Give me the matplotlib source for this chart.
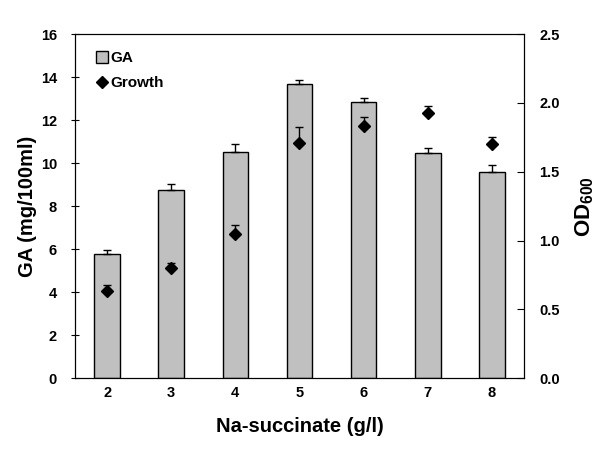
import matplotlib.pyplot as plt
import numpy as np
from matplotlib.lines import Line2D

plt.rcParams['font.family'] = ['Liberation Sans', 'DejaVu Sans']
plt.rcParams['font.weight'] = 'bold'
plt.rcParams['mathtext.fontset'] = 'custom'
plt.rcParams['mathtext.rm'] = 'Liberation Sans:bold'
plt.rcParams['mathtext.bf'] = 'Liberation Sans:bold'

succinate = ['2', '3', '4', '5', '6', '7', '8']
ga = [5.75, 8.77, 10.5, 13.66, 12.82, 10.45, 9.61]
ga_err = [0.23, 0.28, 0.38, 0.19, 0.19, 0.23, 0.32]
growth = [0.63, 0.80, 1.05, 1.71, 1.83, 1.93, 1.70]
growth_err = [0.05, 0.035, 0.065, 0.116, 0.07, 0.045, 0.05]

x = np.arange(len(succinate))

fig = plt.figure(figsize=(6.05, 4.55), dpi=100)
ax = fig.add_axes([0.124, 0.169, 0.742, 0.756])
ax2 = ax.twinx()

# GA bars, upper error only
ax.bar(x, ga, width=0.4, color='#C0C0C0', edgecolor='black', linewidth=1,
       yerr=[np.zeros(len(ga)), ga_err], capsize=3,
       error_kw=dict(elinewidth=1, capthick=1, ecolor='black'), zorder=2)

# growth (OD600) on right axis
ax2.errorbar(x, growth, yerr=[np.zeros(len(growth)), growth_err], fmt='D',
             color='black', markersize=6, capsize=3, elinewidth=1, capthick=1)

ax.set_xlim(-0.5, 6.5)
ax.set_ylim(0, 16)
ax.set_yticks(range(0, 17, 2))
ax2.set_ylim(0, 2.5)
od_ticks = np.arange(0, 2.51, 0.5)
ax2.set_yticks(od_ticks)
ax2.set_yticklabels(['%.1f' % v for v in od_ticks])
ax.set_xticks(x)
ax.set_xticklabels(succinate)

ax.tick_params(axis='y', direction='inout', length=6, labelsize=10.5, pad=10)
ax.tick_params(axis='x', length=0, labelsize=10.5, pad=6)
ax2.tick_params(axis='y', direction='in', length=5, labelsize=10.5, pad=11)

ax.set_xlabel('Na-succinate (g/l)', fontsize=14.5, fontweight='bold', labelpad=12)
ax.set_ylabel('GA (mg/100ml)', fontsize=14.5, fontweight='bold', labelpad=3)
ax2.set_ylabel(r'OD$_{\mathrm{600}}$', fontsize=16, fontweight='bold', labelpad=10)

hs = [Line2D([], [], marker='s', color='none', markerfacecolor='#C0C0C0',
             markeredgecolor='black', markersize=8),
      Line2D([], [], marker='D', color='none', markerfacecolor='black',
             markeredgecolor='black', markersize=6)]
ax.legend(hs, ['GA', 'Growth'], loc='upper left', bbox_to_anchor=(0.02, 0.99),
          frameon=False, handlelength=0.6, handletextpad=0.2, labelspacing=0.72,
          prop={'size': 11, 'weight': 'bold'})

fig.savefig('out.png', dpi=100)
